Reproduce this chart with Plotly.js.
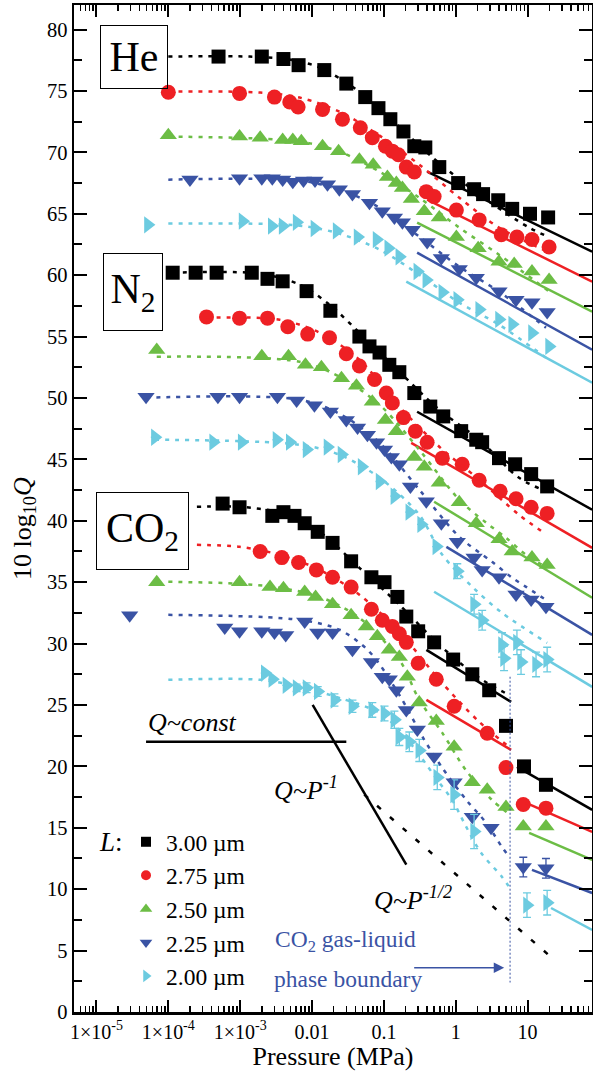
<!DOCTYPE html>
<html><head><meta charset="utf-8">
<script src="https://cdn.plot.ly/plotly-3.0.1.min.js"></script>
<style>html,body{margin:0;padding:0;background:#fff}#plot{width:593px;height:1074px}</style>
</head><body><div id="plot"></div>
<script>
// ---------- categories / styles ----------
const L_LABELS = ['3.00 µm', '2.75 µm', '2.50 µm', '2.25 µm', '2.00 µm'];
const COLORS = ['#000000', '#ee2024', '#6cbd45', '#3a53a4', '#6ccbe0'];
const SYMBOLS = ['square', 'circle', 'triangle-up', 'triangle-down', 'triangle-right'];
const SIZES = [14, 15, 15, 15, 15];
const LEGEND_SIZES = [10, 10, 11, 11, 11];

const X_TICKVALS = [1e-5, 1e-4, 1e-3, 0.01, 0.1, 1, 10];
const X_TICKTEXT = ['1×10<sup>-5</sup>', '1×10<sup>-4</sup>', '1×10<sup>-3</sup>', '0.01', '0.1', '1', '10'];

// ---------- He data ----------
const He300P = [5.0e-4, 2.0e-3, 4.0e-3, 6.5e-3, 0.0148, 0.030, 0.055, 0.084, 0.123, 0.187, 0.265, 0.377, 0.59, 1.08, 1.8, 2.4, 3.9, 6.1, 10.8, 19.3];
const He300Q = [77.8, 77.8, 77.6, 77.1, 76.7, 75.6, 74.5, 73.6, 72.7, 71.7, 70.5, 70.4, 68.8, 67.5, 67.0, 66.6, 66.1, 65.4, 65.0, 64.7];
const He275P = [1.0e-4, 9.8e-4, 3.0e-3, 4.9e-3, 6.4e-3, 0.014, 0.0265, 0.047, 0.069, 0.105, 0.131, 0.159, 0.205, 0.265, 0.389, 0.50, 1.02, 2.12, 4.3, 7.1, 11.5, 19.9];
const He275Q = [74.9, 74.8, 74.5, 74.1, 73.7, 73.5, 72.7, 72.0, 71.2, 70.5, 70.1, 69.8, 68.8, 68.4, 66.8, 66.4, 65.3, 64.5, 63.3, 63.1, 62.9, 62.3];
const He250P = [1.0e-4, 9.8e-4, 1.9e-3, 3.9e-3, 5.4e-3, 7.1e-3, 0.014, 0.0234, 0.0456, 0.071, 0.112, 0.149, 0.181, 0.241, 0.365, 0.59, 1.02, 2.05, 4.0, 6.5, 11.5, 19.9];
const He250Q = [71.4, 71.3, 71.2, 71.0, 71.0, 70.9, 70.5, 70.1, 69.4, 69.0, 68.0, 67.5, 67.1, 66.2, 65.2, 64.7, 63.1, 62.2, 61.1, 60.9, 60.3, 59.6];
const He225P = [2.0e-4, 9.8e-4, 2.0e-3, 2.8e-3, 3.9e-3, 5.4e-3, 7.6e-3, 0.011, 0.0164, 0.024, 0.0365, 0.063, 0.095, 0.140, 0.181, 0.249, 0.40, 0.63, 1.12, 1.93, 4.0, 6.9, 11.5, 18.7];
const He225Q = [67.8, 67.9, 67.9, 67.9, 67.8, 67.6, 67.7, 67.7, 67.4, 67.0, 66.6, 65.9, 65.2, 64.7, 64.3, 63.7, 62.7, 61.4, 60.5, 59.8, 58.7, 58.0, 57.8, 57.0];
const He200P = [5.2e-5, 1.08e-3, 2.75e-3, 3.9e-3, 6.1e-3, 0.0108, 0.022, 0.043, 0.079, 0.115, 0.164, 0.292, 0.389, 0.65, 1.05, 2.12, 4.0, 6.1, 11.5, 19.9];
const He200Q = [64.1, 64.4, 64.0, 64.0, 64.3, 63.8, 63.6, 63.1, 62.9, 62.2, 61.5, 60.3, 59.6, 58.6, 58.0, 57.2, 56.4, 56.0, 55.3, 54.2];

// He model curves (dotted) and high-pressure lines (solid)
const HeFit300P = [1e-4, 1.36e-3, 4.87e-3, 0.0127, 0.0415, 0.119, 0.428, 2.12, 10.5, 19.3];
const HeFit300Q = [77.8, 77.8, 77.56, 76.91, 75.11, 72.83, 69.82, 66.56, 63.87, 63.14];
const HeFit275P = [1e-4, 1.9e-3, 6.7e-3, 0.024, 0.087, 0.311, 1.12, 4.0, 19.3];
const HeFit275Q = [74.95, 74.87, 74.46, 73.32, 71.36, 69.0, 66.31, 63.87, 61.91];
const HeFit250P = [1e-4, 6.7e-3, 0.024, 0.087, 0.311, 1.12, 4.0, 19.3];
const HeFit250Q = [71.28, 70.88, 70.06, 68.43, 66.31, 63.87, 61.67, 58.74];
const HeFit225P = [1e-4, 6.7e-3, 0.024, 0.087, 0.311, 1.12, 4.0, 18.0];
const HeFit225Q = [67.78, 67.7, 66.97, 65.5, 63.14, 60.69, 58.66, 55.72];
const HeFit200P = [1e-4, 6.7e-3, 0.024, 0.087, 0.311, 1.12, 4.0, 18.0];
const HeFit200Q = [64.2, 64.03, 63.38, 62.08, 60.04, 57.76, 55.97, 53.28];
const HeLine300P = [0.40, 79], HeLine300Q = [68.43, 61.91];
const HeLine275P = [0.40, 79], HeLine275Q = [66.15, 59.47];
const HeLine250P = [0.29, 79], HeLine250Q = [64.28, 57.03];
const HeLine225P = [0.29, 79], HeLine225Q = [61.83, 53.93];
const HeLine200P = [0.205, 79], HeLine200Q = [59.47, 51.24];

// ---------- N2 data ----------
const N2300P = [1.15e-4, 2.4e-4, 4.7e-4, 1.45e-3, 2.4e-3, 3.9e-3, 8.4e-3, 0.018, 0.0456, 0.063, 0.087, 0.119, 0.164, 0.265, 0.442, 0.67, 1.19, 1.93, 2.33, 4.0, 6.7, 11.2, 18.7];
const N2300Q = [60.2, 60.2, 60.2, 60.2, 59.7, 59.5, 58.7, 57.1, 55.0, 54.2, 53.7, 52.7, 52.1, 50.4, 49.3, 48.5, 47.3, 46.6, 46.4, 45.1, 44.6, 43.8, 42.8];
const N2275P = [3.4e-4, 9.8e-4, 2.4e-3, 4.6e-3, 8.7e-3, 0.0175, 0.030, 0.0456, 0.074, 0.108, 0.131, 0.187, 0.274, 0.40, 0.65, 1.23, 2.12, 4.15, 6.9, 11.2, 18.7];
const N2275Q = [56.6, 56.5, 56.5, 55.8, 55.2, 54.9, 53.6, 52.6, 51.5, 50.4, 49.6, 48.4, 47.3, 46.4, 45.1, 44.6, 43.3, 42.4, 41.8, 41.1, 40.6];
const N2250P = [6.9e-5, 2.0e-3, 4.7e-3, 8.1e-3, 0.0135, 0.0257, 0.0415, 0.069, 0.105, 0.149, 0.265, 0.365, 0.59, 1.12, 1.93, 4.0, 6.1, 11.5, 18.7];
const N2250Q = [53.9, 53.4, 53.4, 52.7, 52.5, 51.6, 51.0, 49.7, 48.2, 47.3, 45.2, 44.4, 43.1, 41.5, 39.8, 38.5, 37.5, 37.0, 36.4];
const N2225P = [4.9e-5, 4.9e-4, 9.8e-4, 3.3e-3, 6.1e-3, 0.0108, 0.018, 0.030, 0.043, 0.059, 0.079, 0.102, 0.127, 0.164, 0.234, 0.389, 0.63, 1.05, 1.8, 2.33, 4.0, 6.9, 11.2, 18.0];
const N2225Q = [50.1, 50.1, 50.1, 50.1, 49.8, 49.4, 48.9, 48.2, 47.6, 47.0, 46.4, 45.8, 45.2, 44.6, 42.8, 41.6, 39.8, 38.3, 37.0, 36.0, 35.4, 34.0, 33.6, 33.0];
const N2200P = [6.5e-5, 4.2e-4, 1.05e-3, 3.2e-3, 4.9e-3, 8.4e-3, 0.0164, 0.0257, 0.049, 0.087, 0.140, 0.226, 0.33, 0.536, 1.05, 1.8, 2.33, 4.4, 4.7, 7.1, 8.1, 13.1, 18.7];
const N2200Q = [46.8, 46.4, 46.4, 46.6, 46.4, 45.8, 46.0, 45.4, 44.4, 43.2, 42.0, 40.7, 39.7, 37.9, 35.9, 33.2, 31.9, 29.9, 28.8, 30.1, 28.5, 28.3, 28.7];
const N2200Err = [0, 0, 0, 0, 0, 0, 0, 0, 0, 0, 0, 0, 0, 0, 0.6, 0.8, 0.8, 1.0, 1.0, 1.0, 1.0, 1.0, 1.0];

const N2Fit300P = [1.15e-4, 1.9e-3, 6.7e-3, 0.0175, 0.0456, 0.164, 0.59, 2.12, 7.6, 18.7];
const N2Fit300Q = [60.2, 60.12, 59.23, 57.6, 55.32, 52.14, 49.04, 46.6, 43.5, 42.36];
const N2Fit275P = [3.4e-4, 3.55e-3, 0.0127, 0.0456, 0.164, 0.59, 2.12, 7.6, 16.9];
const N2Fit275Q = [56.54, 56.37, 55.32, 53.12, 49.29, 46.03, 43.34, 40.49, 39.02];
const N2Fit250P = [6.9e-5, 6.7e-3, 0.024, 0.087, 0.311, 1.12, 2.65, 5.0, 9.5, 18.7];
const N2Fit250Q = [53.36, 52.95, 51.73, 49.45, 45.78, 41.71, 39.84, 38.62, 37.23, 36.17];
const N2Fit225P = [4.9e-5, 6.7e-3, 0.024, 0.087, 0.311, 1.12, 3.2, 6.1, 9.5, 18.0];
const N2Fit225Q = [50.02, 49.86, 48.72, 46.35, 42.53, 38.7, 36.66, 35.36, 34.62, 33.56];
const N2Fit200P = [6.5e-5, 6.7e-3, 0.024, 0.087, 0.311, 0.65, 1.7, 4.4, 18.7];
const N2Fit200Q = [46.6, 46.19, 45.38, 43.5, 40.49, 37.23, 34.62, 32.51, 30.06];
const N2Line300P = [0.29, 79], N2Line300Q = [48.88, 40.90];
const N2Line275P = [0.24, 79], N2Line275Q = [46.35, 37.80];
const N2Line250P = [0.50, 79], N2Line250Q = [41.55, 33.73];
const N2Line225P = [0.74, 79], N2Line225Q = [37.88, 30.71];
const N2Line200P = [0.50, 79], N2Line200Q = [34.22, 26.48];

// ---------- CO2 data ----------
const CO2300P = [5.7e-4, 9.8e-4, 2.8e-3, 4.0e-3, 5.7e-3, 7.9e-3, 0.012, 0.0193, 0.035, 0.067, 0.102, 0.154, 0.205, 0.30, 0.50, 0.92, 1.7, 2.92, 5.0, 8.9, 18.0];
const CO2300Q = [41.4, 41.1, 40.4, 40.7, 40.4, 39.8, 39.1, 38.2, 36.7, 35.4, 35.0, 33.8, 32.2, 31.0, 30.1, 28.7, 27.5, 26.2, 23.3, 20.0, 18.5];
const CO2275P = [1.9e-3, 3.8e-3, 6.5e-3, 0.0115, 0.0193, 0.035, 0.067, 0.095, 0.131, 0.164, 0.205, 0.30, 0.536, 0.95, 2.74, 5.0, 8.7, 18.0];
const CO2275Q = [37.5, 37.0, 36.6, 36.0, 35.4, 34.6, 32.8, 31.9, 31.4, 30.8, 30.1, 28.4, 27.1, 24.9, 22.7, 19.9, 16.9, 16.6];
const CO2250P = [6.9e-5, 9.8e-4, 2.6e-3, 4.0e-3, 7.9e-3, 0.0112, 0.0193, 0.035, 0.057, 0.081, 0.119, 0.164, 0.212, 0.311, 0.536, 0.95, 1.7, 2.74, 5.0, 8.7, 18.0];
const CO2250Q = [35.0, 35.0, 34.6, 34.5, 34.2, 33.8, 33.2, 32.3, 31.4, 30.6, 29.5, 28.9, 27.3, 25.2, 23.7, 21.6, 18.7, 18.1, 16.7, 15.1, 15.1];
const CO2225P = [2.9e-5, 6.1e-4, 9.8e-4, 2.0e-3, 3.0e-3, 4.3e-3, 7.9e-3, 0.012, 0.0193, 0.0365, 0.067, 0.095, 0.119, 0.149, 0.205, 0.292, 0.50, 0.95, 1.7, 3.1, 8.7, 18.0];
const CO2225Q = [32.3, 31.3, 31.0, 31.0, 30.9, 30.7, 31.8, 30.9, 30.9, 29.5, 28.5, 27.3, 27.1, 26.2, 24.6, 23.0, 20.8, 18.7, 15.9, 15.0, 11.8, 11.7];
const CO2225Err = [0, 0, 0, 0, 0, 0, 0, 0, 0, 0, 0, 0, 0, 0, 0, 0, 0, 0, 0, 0, 0.8, 0.8];
const CO2200P = [2.2e-3, 2.8e-3, 4.4e-3, 6.1e-3, 8.4e-3, 0.012, 0.0205, 0.0365, 0.069, 0.102, 0.140, 0.164, 0.226, 0.311, 0.553, 0.95, 1.8, 9.8, 18.7];
const CO2200Q = [27.6, 27.1, 26.6, 26.4, 26.4, 26.1, 25.4, 24.9, 24.6, 24.3, 23.8, 22.4, 22.0, 21.3, 19.1, 17.7, 14.7, 8.7, 8.9];
const CO2200Err = [0, 0, 0, 0.3, 0.4, 0.4, 0.5, 0.5, 0.6, 0.6, 0.7, 0.7, 0.8, 0.9, 1.0, 1.2, 1.4, 1.0, 1.0];

const CO2Fit300P = [2.5e-4, 9.8e-4, 3.55e-3, 0.0127, 0.0456, 0.164, 0.59, 2.12, 5.5];
const CO2Fit300Q = [41.14, 41.14, 40.65, 39.1, 36.17, 33.16, 29.9, 27.21, 25.82];
const CO2Fit275P = [2.5e-4, 9.8e-4, 3.55e-3, 0.0127, 0.0456, 0.164, 0.59, 2.12, 5.5];
const CO2Fit275Q = [38.04, 37.88, 37.23, 36.01, 33.97, 30.96, 27.05, 23.63, 21.59];
const CO2Fit250P = [1e-4, 9.8e-4, 3.55e-3, 0.0127, 0.0456, 0.164, 0.311, 0.65, 1.44, 3.2, 5.7];
const CO2Fit250Q = [35.03, 34.87, 34.54, 33.81, 32.1, 28.68, 25.42, 22.73, 19.55, 17.27, 16.05];
const CO2Fit225P = [1e-4, 6.7e-3, 0.024, 0.063, 0.164, 0.365, 0.65, 1.4, 2.65, 4.4, 5.7];
const CO2Fit225Q = [32.34, 31.93, 31.12, 29.33, 25.82, 22.16, 19.88, 17.27, 15.4, 13.44, 12.55];
const CO2Fit200P = [1e-4, 1.9e-3, 6.7e-3, 0.024, 0.087, 0.164, 0.311, 0.553, 0.89, 1.4, 2.26, 4.4, 5.9];
const CO2Fit200Q = [27.05, 27.05, 26.48, 25.58, 24.36, 22.97, 20.94, 18.9, 17.27, 15.07, 12.95, 11.0, 9.94];
// gas-side solid lines (black, red) and liquid-side solid lines
const CO2GasLine300P = [0.39, 5.9], CO2GasLine300Q = [29.49, 25.25];
const CO2GasLine275P = [0.39, 5.9], CO2GasLine275Q = [25.42, 21.34];
const CO2Line300P = [7.1, 79], CO2Line300Q = [19.96, 16.46];
const CO2Line275P = [9.5, 79], CO2Line275Q = [17.03, 14.66];
const CO2Line250P = [10.5, 79], CO2Line250Q = [14.58, 12.38];
const CO2Line225P = [11.5, 79], CO2Line225Q = [11.57, 9.69];
const CO2Line200P = [21.2, 79], CO2Line200Q = [8.47, 6.68];

// ---------- guide lines ----------
const ConstLineP = [4.9e-5, 0.030], ConstLineQ = [22.0, 22.0];
const InvLineP = [0.0102, 0.205], InvLineQ = [25.0, 12.0];
const InvSqrtLineP = [0.0533, 24], InvSqrtLineQ = [17.7, 4.2];
const PhaseBoundaryP = [5.7, 5.7], PhaseBoundaryQ = [27.3, 2.4];

// ---------- build traces ----------
const SERIES = [
  {P:[He300P,He275P,He250P,He225P,He200P], Q:[He300Q,He275Q,He250Q,He225Q,He200Q], E:[null,null,null,null,null],
   FP:[HeFit300P,HeFit275P,HeFit250P,HeFit225P,HeFit200P], FQ:[HeFit300Q,HeFit275Q,HeFit250Q,HeFit225Q,HeFit200Q],
   LP:[HeLine300P,HeLine275P,HeLine250P,HeLine225P,HeLine200P], LQ:[HeLine300Q,HeLine275Q,HeLine250Q,HeLine225Q,HeLine200Q]},
  {P:[N2300P,N2275P,N2250P,N2225P,N2200P], Q:[N2300Q,N2275Q,N2250Q,N2225Q,N2200Q], E:[null,null,null,null,N2200Err],
   FP:[N2Fit300P,N2Fit275P,N2Fit250P,N2Fit225P,N2Fit200P], FQ:[N2Fit300Q,N2Fit275Q,N2Fit250Q,N2Fit225Q,N2Fit200Q],
   LP:[N2Line300P,N2Line275P,N2Line250P,N2Line225P,N2Line200P], LQ:[N2Line300Q,N2Line275Q,N2Line250Q,N2Line225Q,N2Line200Q]},
  {P:[CO2300P,CO2275P,CO2250P,CO2225P,CO2200P], Q:[CO2300Q,CO2275Q,CO2250Q,CO2225Q,CO2200Q], E:[null,null,null,CO2225Err,CO2200Err],
   FP:[CO2Fit300P,CO2Fit275P,CO2Fit250P,CO2Fit225P,CO2Fit200P], FQ:[CO2Fit300Q,CO2Fit275Q,CO2Fit250Q,CO2Fit225Q,CO2Fit200Q],
   LP:[CO2Line300P,CO2Line275P,CO2Line250P,CO2Line225P,CO2Line200P], LQ:[CO2Line300Q,CO2Line275Q,CO2Line250Q,CO2Line225Q,CO2Line200Q],
   GP:[CO2GasLine300P,CO2GasLine275P], GQ:[CO2GasLine300Q,CO2GasLine275Q]}
];

const traces = [];
const lineW = 2.5;
SERIES.forEach(g => {
  for (let i = 0; i < 5; i++) {
    const t = {type:'scatter', mode:'markers', x:g.P[i], y:g.Q[i], showlegend:false, hoverinfo:'skip',
      marker:{symbol:SYMBOLS[i], size:SIZES[i], color:COLORS[i], line:{width:0}}};
    if (g.E[i]) t.error_y = {type:'data', array:g.E[i], visible:true, color:COLORS[i], thickness:1.3, width:4};
    traces.push(t);
  }
});
SERIES.forEach(g => {
  for (let i = 0; i < 5; i++) {
    traces.push({type:'scatter', mode:'lines', x:g.FP[i], y:g.FQ[i], showlegend:false, hoverinfo:'skip',
      line:{color:COLORS[i], width:lineW, dash:'4px,6px', shape:'spline', smoothing:0.9}});
    traces.push({type:'scatter', mode:'lines', x:g.LP[i], y:g.LQ[i], showlegend:false, hoverinfo:'skip',
      line:{color:COLORS[i], width:lineW}});
  }
  if (g.GP) g.GP.forEach((p, i) => traces.push({type:'scatter', mode:'lines', x:p, y:g.GQ[i], showlegend:false,
      hoverinfo:'skip', line:{color:COLORS[i], width:lineW}}));
});
traces.push({type:'scatter', mode:'lines', x:ConstLineP, y:ConstLineQ, showlegend:false, hoverinfo:'skip', line:{color:'#000', width:lineW}});
traces.push({type:'scatter', mode:'lines', x:InvLineP, y:InvLineQ, showlegend:false, hoverinfo:'skip', line:{color:'#000', width:lineW}});
traces.push({type:'scatter', mode:'lines', x:InvSqrtLineP, y:InvSqrtLineQ, showlegend:false, hoverinfo:'skip', line:{color:'#000', width:lineW, dash:'5px,12px'}});
traces.push({type:'scatter', mode:'lines', x:PhaseBoundaryP, y:PhaseBoundaryQ, showlegend:false, hoverinfo:'skip', line:{color:'#3a53a4', width:1, dash:'2px,2px'}});
// legend keys
for (let i = 0; i < 5; i++) {
  traces.push({type:'scatter', mode:'markers', x:[null], y:[null], name:L_LABELS[i], showlegend:true,
    marker:{symbol:SYMBOLS[i], size:LEGEND_SIZES[i], color:COLORS[i]}});
}

const FONT = 'Liberation Serif, Times New Roman, serif';
const PW = 518, PH = 1007, ML = 74, MT = 5;
const px = x => (x - ML) / PW;
const py = y => (MT + PH - y) / PH;

const annotations = [
  {text:'He', x:px(133.5), y:py(56.5), width:66, height:62},
  {text:'N<sub>2</sub>', x:px(132.5), y:py(292.5), width:58, height:76},
  {text:'CO<sub>2</sub>', x:px(142), y:py(530.5), width:91, height:76}
].map(a => Object.assign({xref:'paper', yref:'paper', showarrow:false, xanchor:'center', yanchor:'middle',
  font:{family:FONT, size:42, color:'#000'}, bordercolor:'#000', borderwidth:1, borderpad:0, bgcolor:'rgba(0,0,0,0)'}, a));

annotations.push(
  {text:'10 log<sub>10</sub><i>Q</i>', xref:'paper', yref:'paper', x:px(24), y:py(529), xanchor:'center', yanchor:'middle', textangle:-90, showarrow:false, font:{family:FONT, size:26, color:'#000'}},
  {text:'<i>Q~const</i>', xref:'paper', yref:'paper', x:px(146), y:py(722), xanchor:'left', yanchor:'middle', showarrow:false, font:{family:FONT, size:26, color:'#000'}},
  {text:'<i>Q~P<sup>-1</sup></i>', xref:'paper', yref:'paper', x:px(306), y:py(788), xanchor:'center', yanchor:'middle', showarrow:false, font:{family:FONT, size:26, color:'#000'}},
  {text:'<i>Q~P<sup>-1/2</sup></i>', xref:'paper', yref:'paper', x:px(413), y:py(898), xanchor:'center', yanchor:'middle', showarrow:false, font:{family:FONT, size:26, color:'#000'}},
  {text:'CO<sub>2</sub> gas-liquid', xref:'paper', yref:'paper', x:px(273), y:py(941), xanchor:'left', yanchor:'middle', showarrow:false, font:{family:FONT, size:23.5, color:'#3a53a4'}},
  {text:'phase boundary', xref:'paper', yref:'paper', x:px(272), y:py(979), xanchor:'left', yanchor:'middle', showarrow:false, font:{family:FONT, size:23.5, color:'#3a53a4'}},
  {text:' ', x:Math.log10(4.72), y:3.6, xref:'x', yref:'y', showarrow:true, ax:-92, ay:0, arrowhead:2, arrowsize:1.3, arrowwidth:1.6, arrowcolor:'#3a53a4', standoff:0, font:{size:2}},
  {text:'<i>L</i>:', xref:'paper', yref:'paper', x:px(111), y:py(842), xanchor:'center', yanchor:'middle', showarrow:false, font:{family:FONT, size:27, color:'#000'}}
);

const layout = {
  width:593, height:1074,
  margin:{l:ML, r:1, t:MT, b:62, pad:0},
  paper_bgcolor:'#fff', plot_bgcolor:'#fff',
  font:{family:FONT, color:'#000', size:20},
  showlegend:true,
  legend:{x:px(126), y:py(820), xanchor:'left', yanchor:'top', bgcolor:'rgba(0,0,0,0)', borderwidth:0,
    font:{family:FONT, size:23.5, color:'#000'}, itemsizing:'trace', itemwidth:30, tracegroupgap:0},
  xaxis:{type:'log', range:[-5.3125, 1.896], tickmode:'array', tickvals:X_TICKVALS, ticktext:X_TICKTEXT,
    ticks:'inside', ticklen:12, tickwidth:2, tickcolor:'#000', showline:true, linewidth:2.5, linecolor:'#000',
    mirror:'allticks', showgrid:false, zeroline:false, tickfont:{family:FONT, size:20},
    minor:{ticks:'inside', ticklen:6, tickwidth:1.5, tickcolor:'#000', dtick:'D1', showgrid:false},
    title:{text:'Pressure (MPa)', font:{family:FONT, size:26}, standoff:6}},
  yaxis:{range:[0, 82], tickmode:'linear', tick0:0, dtick:5, ticks:'inside', ticklen:13, tickwidth:2, tickcolor:'#000',
    showline:true, linewidth:2.5, linecolor:'#000', mirror:'allticks', showgrid:false, zeroline:false,
    tickfont:{family:FONT, size:20.5},
    minor:{ticks:'inside', ticklen:8, tickwidth:2, tickcolor:'#000', dtick:2.5, showgrid:false}},
  annotations:annotations
};

Plotly.newPlot('plot', traces, layout, {displayModeBar:false, staticPlot:true});
</script></body></html>
